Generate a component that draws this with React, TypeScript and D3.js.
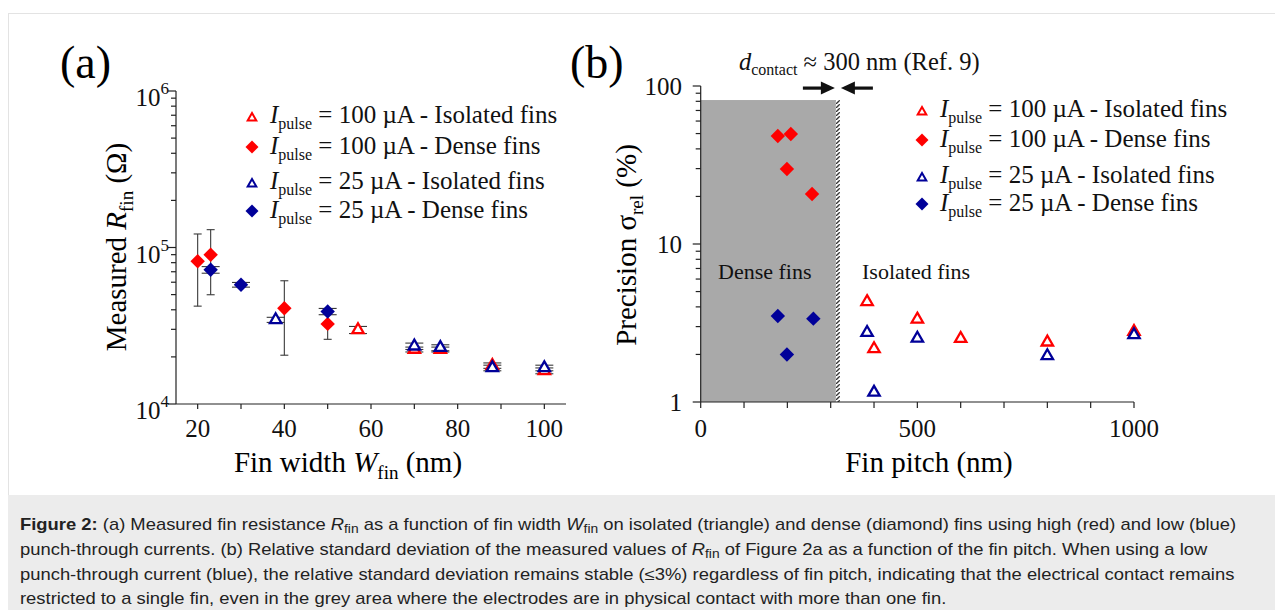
import React from 'react';
import * as d3 from 'd3';

// (a) fin width (nm) -> measured R_fin (ohm), with error bar ends
const redIsoW = [57, 70, 76, 88, 100];
const redIsoR = [29800, 22300, 22300, 17600, 16300];
const redIsoLo = [28200, 21500, 21500, 16900, 15600];
const redIsoHi = [31300, 23100, 23100, 18300, 17000];

const blueIsoW = [38, 70, 76, 88, 100];
const blueIsoR = [34500, 23400, 22900, 17000, 17000];
const blueIsoLo = [33200, 22300, 21900, 16300, 16300];
const blueIsoHi = [35800, 24500, 23900, 17700, 17700];

const redDenseW = [20, 23, 40, 50];
const redDenseR = [81700, 89800, 40900, 32500];
const redDenseLo = [42200, 49900, 20500, 25900];
const redDenseHi = [122000, 130000, 61300, 37500];

const blueDenseW = [23, 30, 50];
const blueDenseR = [72100, 57800, 39000];
const blueDenseLo = [68500, 55800, 37200];
const blueDenseHi = [75500, 59800, 40800];

// (b) fin pitch (nm) -> precision sigma_rel (%)
const redDenseP = [178, 208, 199, 257];
const redDenseS = [48.3, 49.7, 29.8, 20.7];
const blueDenseP = [178, 199, 260];
const blueDenseS = [3.5, 2.0, 3.37];
const redIsoP = [384, 400, 500, 600, 800, 1000];
const redIsoS = [4.31, 2.17, 3.34, 2.52, 2.39, 2.79];
const blueIsoP = [384, 400, 500, 800, 1000];
const blueIsoS = [2.75, 1.15, 2.53, 1.96, 2.66];

const denseEdge = 312; // nm, right edge of grey zone
const denseTop = 81.5; // %, top of grey zone

// ticks
const aXMajor = [20, 40, 60, 80, 100];
const aXMinor = [30, 50, 70, 90];
const aYMajor = [1e4, 1e5, 1e6];
const aYExp = ['4', '5', '6'];
const bXMajor = [0, 500, 1000];
const bXMinor = [100, 200, 300, 400, 600, 700, 800, 900];
const bYMajor = [1, 10, 100];

const legendRows = [
  { cur: '100', kind: 'Isolated fins', color: '#ff0000', shape: 'tri' },
  { cur: '100', kind: 'Dense fins', color: '#ff0000', shape: 'dia' },
  { cur: '25', kind: 'Isolated fins', color: '#000099', shape: 'tri' },
  { cur: '25', kind: 'Dense fins', color: '#000099', shape: 'dia' },
];

const RED = '#ff0000';
const BLUE = '#000099';
const SERIF = '"Liberation Serif", "Times New Roman", serif';
const SANS = '"Liberation Sans", Arial, sans-serif';

const xA = d3.scaleLinear().domain([15, 105]).range([176, 566]);
const yA = d3.scaleLog().domain([1e4, 1e6]).range([404, 91]);
const xB = d3.scaleLinear().domain([0, 1000]).range([700.7, 1134]);
const yB = d3.scaleLog().domain([1, 100]).range([402, 86]);

const triPath = (a: number) => d3.symbol(d3.symbolTriangle, a)()!;
const sqPath = (a: number) => d3.symbol(d3.symbolSquare, a)()!;

function Tri({ x, y, color, a = 56, w = 2.3 }: any) {
  return <path d={triPath(a)} transform={`translate(${x},${y})`} fill="#fff" stroke={color} strokeWidth={w} />;
}
function Dia({ x, y, color, a = 104 }: any) {
  return <path d={sqPath(a)} transform={`translate(${x},${y}) rotate(45)`} fill={color} />;
}

function ErrBars({ xs, lo, hi, sx, sy, cap }: any) {
  return (
    <g stroke="#3a3a3a" strokeWidth={1.1}>
      {xs.map((v: number, i: number) => {
        const x = sx(v);
        return (
          <g key={i}>
            <line x1={x} x2={x} y1={sy(lo[i])} y2={sy(hi[i])} />
            <line x1={x - cap} x2={x + cap} y1={sy(lo[i])} y2={sy(lo[i])} />
            <line x1={x - cap} x2={x + cap} y1={sy(hi[i])} y2={sy(hi[i])} />
          </g>
        );
      })}
    </g>
  );
}

function Legend({ x, ys }: any) {
  return (
    <g fontFamily={SERIF} fontSize={25} fill="#111">
      {legendRows.map((r, i) => {
        const y = ys[i];
        return (
          <g key={i}>
            {r.shape === 'tri' ? <Tri x={x} y={y - 5} color={r.color} a={32} w={2} /> : <Dia x={x} y={y - 7} color={r.color} a={84} />}
            <text x={x + 18} y={y}>
              <tspan fontStyle="italic">I</tspan>
              <tspan fontSize={16} dy={6}>pulse</tspan>
              <tspan dy={-6}>{` = ${r.cur} µA - ${r.kind}`}</tspan>
            </text>
          </g>
        );
      })}
    </g>
  );
}

const axisStroke = '#222';

function PanelA() {
  const yMinor = yA.ticks().filter((t) => !aYMajor.includes(t));
  return (
    <g>
      <text x={60} y={78} fontFamily={SERIF} fontSize={46}>(a)</text>
      <g stroke={axisStroke} strokeWidth={1.2}>
        <line x1={xA.range()[0]} x2={xA.range()[0]} y1={yA.range()[0]} y2={yA.range()[1]} />
        <line x1={xA.range()[0]} x2={xA.range()[1]} y1={yA.range()[0]} y2={yA.range()[0]} />
        {aXMajor.concat(aXMinor).map((t) => (
          <line key={t} x1={xA(t)} x2={xA(t)} y1={yA.range()[0]} y2={yA.range()[0] + 5} />
        ))}
        {aYMajor.map((t) => (
          <line key={t} x1={xA.range()[0] - 8} x2={xA.range()[0]} y1={yA(t)} y2={yA(t)} />
        ))}
        {yMinor.map((t) => (
          <line key={t} x1={xA.range()[0] - 5} x2={xA.range()[0]} y1={yA(t)} y2={yA(t)} />
        ))}
      </g>
      <g fontFamily={SERIF} fontSize={25} fill="#111">
        {aXMajor.map((t) => (
          <text key={t} x={xA(t)} y={437} textAnchor="middle">{t}</text>
        ))}
        {aYMajor.map((t, i) => (
          <text key={t} x={169} y={yA(t) + 15} textAnchor="end">
            10<tspan fontSize={17} dy={-12}>{aYExp[i]}</tspan>
          </text>
        ))}
      </g>
      <text x={348} y={472} textAnchor="middle" fontFamily={SERIF} fontSize={29}>
        Fin width <tspan fontStyle="italic">W</tspan>
        <tspan fontSize={19} dy={7}>fin</tspan>
        <tspan dy={-7}> (nm)</tspan>
      </text>
      <text transform="translate(126,247) rotate(-90)" textAnchor="middle" fontFamily={SERIF} fontSize={29}>
        Measured <tspan fontStyle="italic">R</tspan>
        <tspan fontSize={19} dy={7}>fin</tspan>
        <tspan dy={-7}> (Ω)</tspan>
      </text>

      <ErrBars xs={redDenseW} lo={redDenseLo} hi={redDenseHi} sx={xA} sy={yA} cap={4} />
      <ErrBars xs={blueDenseW} lo={blueDenseLo} hi={blueDenseHi} sx={xA} sy={yA} cap={9} />
      <ErrBars xs={redIsoW} lo={redIsoLo} hi={redIsoHi} sx={xA} sy={yA} cap={9} />
      <ErrBars xs={blueIsoW} lo={blueIsoLo} hi={blueIsoHi} sx={xA} sy={yA} cap={9} />
      {redDenseW.map((w, i) => <Dia key={'rd' + i} x={xA(w)} y={yA(redDenseR[i])} color={RED} />)}
      {blueDenseW.map((w, i) => <Dia key={'bd' + i} x={xA(w)} y={yA(blueDenseR[i])} color={BLUE} />)}
      {redIsoW.map((w, i) => <Tri key={'ri' + i} x={xA(w)} y={yA(redIsoR[i])} color={RED} />)}
      {blueIsoW.map((w, i) => <Tri key={'bi' + i} x={xA(w)} y={yA(blueIsoR[i])} color={BLUE} />)}

      <Legend x={252} ys={[123, 154, 189, 218]} />
    </g>
  );
}

function PanelB() {
  const yMinor = yB.ticks().filter((t) => !bYMajor.includes(t));
  const x0 = xB.range()[0];
  const yb = yB.range()[0];
  const edge = xB(denseEdge);
  const top = yB(denseTop);
  return (
    <g>
      <defs>
        <pattern id="hatch" width={4} height={4} patternUnits="userSpaceOnUse">
          <rect width={4} height={4} fill="#fff" />
          <path d="M-1,5 L5,-1" stroke="#333" strokeWidth={1.3} />
        </pattern>
      </defs>
      <text x={570} y={78} fontFamily={SERIF} fontSize={46}>(b)</text>
      <rect x={x0} y={top} width={edge - x0} height={yb - top} fill="#a9a9a9" />
      <rect x={edge} y={top} width={4} height={yb - top} fill="url(#hatch)" />

      <g stroke={axisStroke} strokeWidth={1.2}>
        <line x1={x0} x2={x0} y1={yb} y2={yB.range()[1]} />
        <line x1={x0} x2={xB.range()[1]} y1={yb} y2={yb} />
        {bXMajor.concat(bXMinor).map((t) => (
          <line key={t} x1={xB(t)} x2={xB(t)} y1={yb} y2={yb + 6} />
        ))}
        {bYMajor.map((t) => (
          <line key={t} x1={x0 - 8} x2={x0} y1={yB(t)} y2={yB(t)} />
        ))}
        {yMinor.map((t) => (
          <line key={t} x1={x0 - 5} x2={x0} y1={yB(t)} y2={yB(t)} />
        ))}
      </g>
      <g fontFamily={SERIF} fontSize={25} fill="#111">
        {bXMajor.map((t) => (
          <text key={t} x={xB(t)} y={437} textAnchor="middle">{t}</text>
        ))}
        {bYMajor.map((t) => (
          <text key={t} x={682} y={yB(t) + 9} textAnchor="end">{t}</text>
        ))}
      </g>
      <text x={929} y={472} textAnchor="middle" fontFamily={SERIF} fontSize={29}>Fin pitch (nm)</text>
      <text transform="translate(636,245) rotate(-90)" textAnchor="middle" fontFamily={SERIF} fontSize={29}>
        Precision σ<tspan fontSize={19} dy={7}>rel</tspan>
        <tspan dy={-7}> (%)</tspan>
      </text>

      <g fontFamily={SERIF} fontSize={22} fill="#111">
        <text x={718} y={279}>Dense fins</text>
        <text x={862} y={279}>Isolated fins</text>
      </g>

      <text x={739} y={70} fontFamily={SERIF} fontSize={24.5} fill="#111">
        <tspan fontStyle="italic">d</tspan>
        <tspan fontSize={16} dy={5}>contact</tspan>
        <tspan dy={-5}> ≈ 300 nm (Ref. 9)</tspan>
      </text>
      <g fill="#111">
        <rect x={edge - 33} y={86.5} width={22} height={3.2} />
        <path d={`M${edge - 1},88 L${edge - 15},81.5 L${edge - 15},94.5 Z`} />
        <rect x={edge + 15} y={86.5} width={22} height={3.2} />
        <path d={`M${edge + 5},88 L${edge + 19},81.5 L${edge + 19},94.5 Z`} />
      </g>

      {redDenseP.map((p, i) => <Dia key={'rd' + i} x={xB(p)} y={yB(redDenseS[i])} color={RED} />)}
      {blueDenseP.map((p, i) => <Dia key={'bd' + i} x={xB(p)} y={yB(blueDenseS[i])} color={BLUE} />)}
      {redIsoP.map((p, i) => <Tri key={'ri' + i} x={xB(p)} y={yB(redIsoS[i])} color={RED} />)}
      {blueIsoP.map((p, i) => <Tri key={'bi' + i} x={xB(p)} y={yB(blueIsoS[i])} color={BLUE} />)}

      <Legend x={922} ys={[117, 147, 183, 211]} />
    </g>
  );
}

function Caption() {
  const sub = (s: string) => [
    <tspan key="a" fontStyle="italic">{s}</tspan>,
    <tspan key="b" fontSize={12} dy={3}>fin</tspan>,
    <tspan key="c" dy={-3}>{' '}</tspan>,
  ];
  return (
    <g fontFamily={SANS} fontSize={16} fill="#222" transform="translate(20,0) scale(1.15,1)">
      <text x={0} y={530}>
        <tspan fontWeight="bold">Figure 2:</tspan> (a) Measured fin resistance {sub('R')}as a function of fin width {sub('W')}on isolated (triangle) and dense (diamond) fins using high (red) and low (blue)
      </text>
      <text x={0} y={555}>
        punch-through currents. (b) Relative standard deviation of the measured values of {sub('R')}of Figure 2a as a function of the fin pitch. When using a low
      </text>
      <text x={0} y={580}>
        punch-through current (blue), the relative standard deviation remains stable (≤3%) regardless of fin pitch, indicating that the electrical contact remains
      </text>
      <text x={0} y={604}>
        restricted to a single fin, even in the grey area where the electrodes are in physical contact with more than one fin.
      </text>
    </g>
  );
}

export default function App() {
  return (
    <svg width={1275} height={610} style={{ position: 'absolute', left: 0, top: 0, background: '#fff' }}>
      <rect x={8.5} y={13.5} width={1275} height={482} fill="#fff" stroke="#e3e3e3" />
      <rect x={8} y={495} width={1267} height={115} fill="#ececec" />
      <PanelA />
      <PanelB />
      <Caption />
    </svg>
  );
}
